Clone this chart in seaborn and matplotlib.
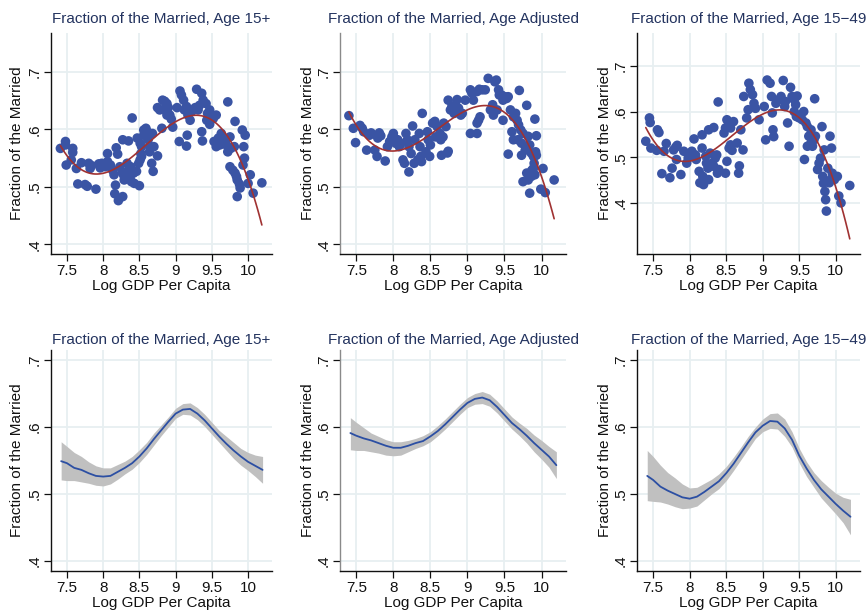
import numpy as np
import pandas as pd
import matplotlib
matplotlib.use("Agg")
import matplotlib.pyplot as plt
import seaborn as sns

# ---- scatter data: log GDP per capita vs. share married ----
gdp_15 = [7.41, 7.48, 7.48, 7.49, 7.58, 7.58, 7.56, 7.63, 7.65, 7.70, 7.75, 7.78, 7.80, 7.82, 7.84,
          7.90, 7.94, 7.96, 7.98, 8.03, 8.06, 8.10, 8.06, 8.13, 8.15, 8.17, 8.18, 8.20, 8.16, 8.21,
          8.27, 8.23, 8.26, 8.28, 8.29, 8.27, 8.35, 8.33, 8.35, 8.37, 8.39, 8.38, 8.40, 8.42, 8.43,
          8.46, 8.49, 8.50, 8.47, 8.51, 8.53, 8.56, 8.52, 8.53, 8.51, 8.56, 8.59, 8.61, 8.62, 8.65,
          8.64, 8.67, 8.69, 8.68, 8.70, 8.75, 8.75, 8.78, 8.82, 8.85, 8.88, 8.90, 8.81, 8.84, 8.88,
          8.92, 8.94, 8.96, 9.02, 9.06, 9.08, 9.11, 9.05, 9.12, 9.15, 9.17, 9.20, 9.16, 9.15, 9.22,
          9.27, 9.29, 9.31, 9.33, 9.36, 9.38, 9.42, 9.36, 9.37, 9.44, 9.46, 9.47, 9.43, 9.47, 9.52,
          9.56, 9.53, 9.56, 9.59, 9.61, 9.63, 9.72, 9.66, 9.70, 9.72, 9.75, 9.76, 9.72, 9.75, 9.79,
          9.81, 9.82, 9.84, 9.85, 9.88, 9.89, 9.82, 9.85, 9.92, 9.96, 9.94, 9.95, 9.93, 10.00, 10.03,
          10.07, 10.19]
married_15 = [.567, .579, .573, .538, .567, .560, .547, .532, .505, .542, .504, .501, .541, .532, .537,
              .496, .540, .533, .541, .535, .544, .538, .558, .529, .521, .503, .568, .557, .488, .476,
              .483, .535, .526, .521, .512, .582, .580, .541, .529, .517, .509, .535, .620, .524, .506,
              .527, .541, .502, .585, .576, .570, .590, .558, .553, .547, .599, .602, .596, .582, .570,
              .561, .541, .527, .593, .570, .554, .638, .634, .651, .649, .645, .638, .602, .635, .625,
              .625, .618, .604, .638, .667, .660, .651, .579, .634, .640, .625, .616, .590, .571, .631,
              .638, .670, .634, .642, .663, .651, .645, .596, .580, .628, .625, .634, .616, .609, .619,
              .625, .579, .570, .585, .573, .593, .648, .575, .582, .570, .587, .567, .561, .535, .529,
              .570, .524, .518, .512, .505, .498, .614, .483, .599, .590, .570, .550, .538, .506, .521,
              .489, .507]

gdp_adj = [7.40, 7.46, 7.49, 7.55, 7.58, 7.60, 7.64, 7.68, 7.70, 7.75, 7.78, 7.79, 7.81, 7.83, 7.89,
           7.92, 7.95, 7.98, 8.00, 8.03, 8.06, 8.08, 8.10, 8.13, 8.15, 8.17, 8.19, 8.21, 8.21, 8.24,
           8.26, 8.28, 8.29, 8.33, 8.35, 8.36, 8.37, 8.38, 8.39, 8.44, 8.46, 8.47, 8.49, 8.50, 8.53,
           8.56, 8.57, 8.59, 8.63, 8.64, 8.65, 8.67, 8.68, 8.71, 8.73, 8.74, 8.74, 8.77, 8.79, 8.82,
           8.84, 8.86, 8.88, 8.91, 8.93, 8.97, 9.04, 9.06, 9.08, 9.04, 9.13, 9.15, 9.17, 9.13, 9.13,
           9.16, 9.20, 9.24, 9.28, 9.31, 9.34, 9.37, 9.39, 9.42, 9.43, 9.35, 9.40, 9.46, 9.48, 9.51,
           9.53, 9.55, 9.48, 9.55, 9.58, 9.60, 9.62, 9.65, 9.67, 9.70, 9.69, 9.72, 9.75, 9.68, 9.73,
           9.62, 9.73, 9.78, 9.80, 9.82, 9.84, 9.86, 9.89, 9.91, 9.93, 9.92, 9.93, 9.75, 9.80, 9.82,
           9.84, 9.87, 9.90, 9.91, 9.89, 9.86, 9.99, 10.02, 10.05, 10.17]
married_adj = [.624, .602, .577, .607, .602, .596, .564, .590, .594, .564, .553, .585, .594, .589, .545,
               .570, .579, .587, .593, .576, .582, .570, .576, .547, .541, .593, .582, .526, .570, .558,
               .606, .541, .582, .547, .593, .570, .553, .544, .628, .561, .596, .582, .553, .573, .611,
               .614, .587, .605, .593, .582, .555, .587, .611, .605, .559, .562, .651, .634, .640, .628,
               .643, .652, .637, .625, .628, .651, .669, .663, .651, .593, .593, .616, .622, .611, .666,
               .670, .669, .669, .689, .634, .643, .683, .686, .669, .660, .625, .634, .660, .651, .657,
               .654, .657, .616, .557, .634, .596, .622, .628, .616, .668, .608, .599, .593, .582, .576,
               .582, .555, .564, .642, .588, .573, .559, .553, .618, .589, .561, .555, .509, .524, .512,
               .489, .529, .541, .521, .532, .518, .496, .532, .490, .512]

gdp_1549 = [7.40, 7.45, 7.46, 7.47, 7.55, 7.56, 7.58, 7.62, 7.65, 7.68, 7.73, 7.76, 7.78, 7.81, 7.83,
            7.82, 7.88, 7.92, 7.96, 7.98, 8.01, 8.03, 8.06, 8.08, 8.09, 8.13, 8.14, 8.17, 8.19, 8.18,
            8.17, 8.22, 8.23, 8.25, 8.26, 8.28, 8.26, 8.33, 8.31, 8.33, 8.35, 8.38, 8.40, 8.37, 8.39,
            8.47, 8.49, 8.51, 8.54, 8.56, 8.49, 8.51, 8.54, 8.56, 8.58, 8.60, 8.65, 8.67, 8.68, 8.70,
            8.73, 8.74, 8.80, 8.81, 8.83, 8.86, 8.78, 8.88, 8.90, 8.95, 9.02, 9.04, 9.06, 9.10, 9.12,
            9.13, 9.14, 9.15, 9.18, 9.22, 9.25, 9.28, 9.30, 9.31, 9.34, 9.36, 9.38, 9.40, 9.43, 9.45,
            9.47, 9.43, 9.46, 9.50, 9.52, 9.54, 9.56, 9.57, 9.59, 9.61, 9.63, 9.66, 9.68, 9.70, 9.71,
            9.61, 9.66, 9.72, 9.75, 9.77, 9.79, 9.81, 9.82, 9.83, 9.85, 9.86, 9.84, 9.87, 9.89, 9.91,
            9.92, 9.94, 9.95, 9.98, 9.93, 10.02, 10.04, 10.07, 10.19]
married_1549 = [.535, .586, .576, .520, .515, .560, .554, .464, .513, .530, .455, .476, .516, .522, .526,
                .495, .462, .513, .487, .498, .502, .513, .540, .505, .495, .469, .444, .520, .440, .458,
                .549, .502, .487, .476, .451, .509, .560, .565, .487, .480, .498, .465, .473, .505, .621,
                .553, .564, .582, .574, .564, .465, .491, .520, .527, .515, .578, .531, .465, .481, .560,
                .516, .633, .604, .662, .648, .637, .586, .618, .607, .582, .611, .538, .669, .662, .633,
                .597, .560, .545, .618, .626, .633, .668, .611, .622, .575, .524, .653, .633, .626, .615,
                .634, .600, .589, .586, .593, .582, .600, .495, .575, .567, .546, .560, .524, .538, .628,
                .524, .531, .546, .473, .487, .498, .567, .458, .443, .425, .407, .516, .382, .476, .444,
                .546, .520, .465, .451, .451, .458, .415, .400, .438]

# ---- local-polynomial smooth with 95% band ----
grid = [7.42, 7.5, 7.6, 7.7, 7.8, 7.9, 8.0, 8.1, 8.2, 8.3, 8.4, 8.5, 8.6, 8.7, 8.8,
        8.9, 9.0, 9.1, 9.2, 9.3, 9.4, 9.5, 9.6, 9.7, 9.8, 9.9, 10.0, 10.1, 10.2]

fit_15 = [.549, .546, .539, .536, .531, .527, .526, .527, .533, .539, .546, .556, .568, .582, .595,
          .608, .620, .626, .627, .620, .610, .598, .586, .575, .565, .556, .548, .542, .536]
lo_15 = [.521, .520, .520, .518, .516, .513, .512, .515, .522, .530, .537, .547, .559, .573, .587,
         .600, .613, .619, .618, .611, .601, .589, .577, .565, .553, .543, .535, .526, .516]
hi_15 = [.578, .571, .562, .556, .548, .542, .539, .539, .544, .549, .556, .566, .577, .591, .603,
         .615, .628, .635, .636, .629, .619, .607, .595, .586, .577, .568, .562, .558, .556]

fit_adj = [.591, .587, .583, .580, .576, .572, .569, .569, .572, .576, .579, .586, .594, .604, .615,
           .626, .636, .642, .644, .640, .630, .618, .606, .597, .587, .576, .566, .556, .543]
lo_adj = [.566, .565, .565, .563, .561, .558, .557, .558, .563, .568, .572, .578, .587, .597, .608,
          .619, .629, .634, .635, .631, .621, .609, .597, .587, .576, .563, .552, .540, .523]
hi_adj = [.614, .607, .599, .591, .586, .581, .578, .578, .580, .583, .587, .593, .602, .612, .623,
          .634, .644, .650, .653, .649, .639, .627, .615, .606, .598, .588, .580, .571, .563]

fit_1549 = [.527, .521, .511, .505, .500, .495, .493, .496, .503, .511, .519, .531, .545, .561, .577,
            .592, .602, .609, .608, .598, .581, .557, .538, .521, .507, .496, .485, .475, .466]
lo_1549 = [.490, .489, .488, .485, .481, .478, .479, .482, .491, .500, .508, .520, .535, .551, .567,
           .583, .593, .598, .597, .586, .570, .546, .526, .510, .494, .482, .470, .457, .439]
hi_1549 = [.565, .556, .543, .532, .524, .515, .509, .510, .516, .522, .530, .541, .555, .570, .586,
           .600, .612, .620, .621, .612, .593, .568, .548, .532, .520, .510, .501, .495, .492]

titles = ["Fraction of the Married, Age 15+",
          "Fraction of the Married, Age Adjusted",
          "Fraction of the Married, Age 15\u221249"]
x_ticks = [7.5, 8, 8.5, 9, 9.5, 10]
x_tick_labels = ["7.5", "8", "8.5", "9", "9.5", "10"]
y_ticks = [.4, .5, .6, .7]
y_tick_labels = [".4", ".5", ".6", ".7"]

sns.set_theme(style="white")
plt.rcParams["font.family"] = ["Liberation Sans", "DejaVu Sans"]

DOT = "#3a54a4"
FIT = "#a03232"
SMOOTH = "#2c4fa3"
BAND = "#c0c0c0"
TITLE = "#23335f"
GRID = "#e7eff1"
FS = 11

W, H = 868, 610
fig = plt.figure(figsize=(W / 100, H / 100), dpi=100)

cols = [(51, 272), (340, 566), (637, 860)]
rows = [(33, 254), (350, 571)]


def make_ax(col, row):
    x0, x1 = cols[col]
    y0, y1 = rows[row]
    return fig.add_axes([x0 / W, 1 - y1 / H, (x1 - x0) / W, (y1 - y0) / H])


def style(ax, ylim, col, title, label_x, title_pad):
    ax.set_xlim(7.28, 10.33)
    ax.set_ylim(*ylim)
    ax.set_xticks(x_ticks)
    ax.set_xticklabels(x_tick_labels)
    ax.set_yticks(y_ticks)
    ax.set_yticklabels(y_tick_labels, rotation=90, va="center")
    ax.grid(True, color=GRID, linewidth=1.3)
    ax.set_axisbelow(True)
    for s in ("top", "right"):
        ax.spines[s].set_visible(False)
    spine_col = "#8a8a8a" if col == 1 else "#111111"
    ax.spines["left"].set_color(spine_col)
    ax.spines["bottom"].set_color("#111111")
    ax.spines["left"].set_linewidth(1.0)
    ax.spines["bottom"].set_linewidth(1.0)
    ax.tick_params(axis="both", which="major", direction="out", length=5, width=0.9,
                   color="#111111", labelsize=FS, labelcolor="#111111",
                   left=True, bottom=True, pad=2)
    ax.set_xlabel("Log GDP Per Capita", fontsize=FS, color="#111111", labelpad=1)
    ax.set_ylabel("Fraction of the Married", fontsize=FS, color="#111111")
    ax.yaxis.set_label_coords(label_x, 0.5)
    ax.set_title(title, fontsize=FS, color=TITLE, pad=title_pad)


label_pos = [-0.122, -0.112, -0.112]

# top row: scatter with polynomial fit
top = [(gdp_15, married_15, (.383, .768)),
       (gdp_adj, married_adj, (.383, .768)),
       (gdp_1549, married_1549, (.288, .772))]
for i, (gx, my, ylim) in enumerate(top):
    ax = make_ax(i, 0)
    df = pd.DataFrame({"gdp": gx, "married": my})
    sns.scatterplot(data=df, x="gdp", y="married", ax=ax, color=DOT, s=48,
                    edgecolor="none", linewidth=0, zorder=3)
    sns.regplot(data=df, x="gdp", y="married", ax=ax, order=3, ci=None,
                scatter=False, truncate=True,
                line_kws={"color": FIT, "linewidth": 1.2, "zorder": 4})
    style(ax, ylim, i, titles[i], label_pos[i], 7)

# bottom row: smooth with confidence band
bottom = [(fit_15, lo_15, hi_15), (fit_adj, lo_adj, hi_adj), (fit_1549, lo_1549, hi_1549)]
for i, (f, lo, hi) in enumerate(bottom):
    ax = make_ax(i, 1)
    ax.fill_between(grid, lo, hi, color=BAND, linewidth=0, zorder=2)
    sns.lineplot(x=grid, y=f, ax=ax, color=SMOOTH, linewidth=1.3, zorder=3)
    style(ax, (.385, .715), i, titles[i], label_pos[i], 4)

fig.savefig("out.png", dpi=100)
